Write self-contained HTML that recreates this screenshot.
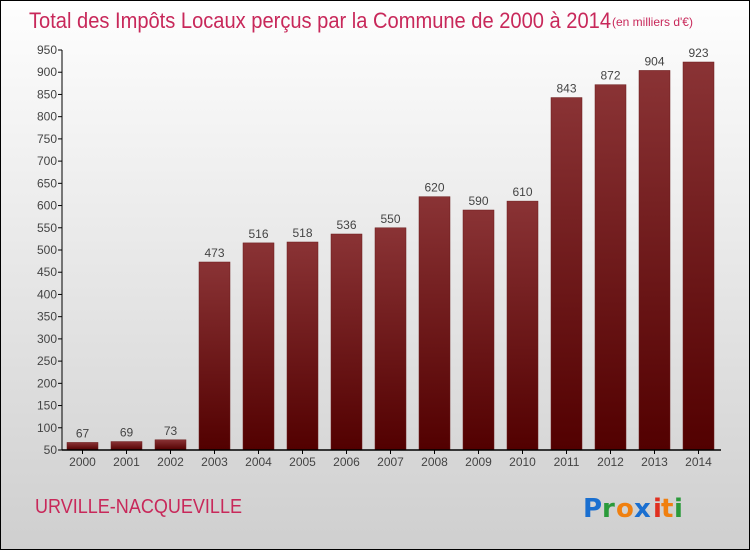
<!DOCTYPE html>
<html><head><meta charset="utf-8"><style>
body{margin:0}
#c{width:748px;height:548px;border:1px solid #000;background:linear-gradient(#fefefe,#cfcfcf);position:relative;font-family:"Liberation Sans",sans-serif;overflow:hidden}
</style></head><body>
<div id="c">
<svg id="s" width="748" height="548" style="position:absolute;left:0;top:0">
<defs><linearGradient id="g" x1="0" y1="0" x2="0" y2="1"><stop offset="0" stop-color="#8a3335"/><stop offset="1" stop-color="#520000"/></linearGradient></defs>
<text x="28" y="27" font-size="22" fill="#c8285a" textLength="582" lengthAdjust="spacingAndGlyphs">Total des Impôts Locaux perçus par la Commune de 2000 à 2014</text>
<text x="611" y="25" font-size="12" fill="#c8285a">(en milliers d'€)</text>
<text x="34" y="512" font-size="20" fill="#c8285a" textLength="207" lengthAdjust="spacingAndGlyphs">URVILLE-NACQUEVILLE</text>
<g font-size="26" font-family="DejaVu Sans, sans-serif" font-weight="bold">
<text x="582" y="516" fill="#1a6fd0">P</text><text x="601" y="516" fill="#2a9a3a">r</text><text x="615" y="516" fill="#f08010">o</text><text x="633" y="516" fill="#1a6fd0">x</text><text x="652" y="516" fill="#e03020">i</text><text x="660" y="516" fill="#f08010">t</text><text x="673" y="516" fill="#2a9a3a">i</text>
</g>
</svg>
</div>
<script>
const years=["2000","2001","2002","2003","2004","2005","2006","2007","2008","2009","2010","2011","2012","2013","2014"];
const values=[67,69,73,473,516,518,536,550,620,590,610,843,872,904,923];
const yTicks=[50,100,150,200,250,300,350,400,450,500,550,600,650,700,750,800,850,900,950];
const ns="http://www.w3.org/2000/svg";
const s=document.getElementById('s');
const y0=449,yMin=50,yMax=950,yTop=49;
function y(v){return y0-(v-yMin)/(yMax-yMin)*(y0-yTop);}
function x(i){return 81.5+i*44;}
function mk(t,a,txt){const e=document.createElementNS(ns,t);for(const k in a)e.setAttribute(k,a[k]);if(txt!==undefined)e.textContent=txt;s.appendChild(e);return e;}
yTicks.forEach(v=>{
 const l=mk('line',{x1:57,x2:61,y1:y(v),y2:y(v),stroke:'#000'});
 
 
 const t=mk('text',{x:56,y:y(v)+4,'text-anchor':'end','font-size':12,fill:'#444'},v);
 
 
});
values.forEach((v,i)=>{
 const r=mk('rect',{x:x(i)-15.5,y:y(v),width:31,height:y0-y(v),fill:'url(#g)',stroke:'#6a1a1a','stroke-width':0.5});
 
 
 const t=mk('text',{x:x(i),y:y(v)-5,'text-anchor':'middle','font-size':12,fill:'#444'},v);
 
 
 const k=mk('line',{x1:x(i),x2:x(i),y1:y0,y2:y0+4,stroke:'#000'});
 
 
 const xl=mk('text',{x:x(i),y:465,'text-anchor':'middle','font-size':12,fill:'#444'},years[i]);
 
 
});
const ya=mk('line',{x1:61,x2:61,y1:yTop,y2:y0,stroke:'#000'});


const xa=mk('line',{x1:61,x2:720,y1:y0,y2:y0,stroke:'#000','stroke-width':1.5});


</script>
</body></html>
